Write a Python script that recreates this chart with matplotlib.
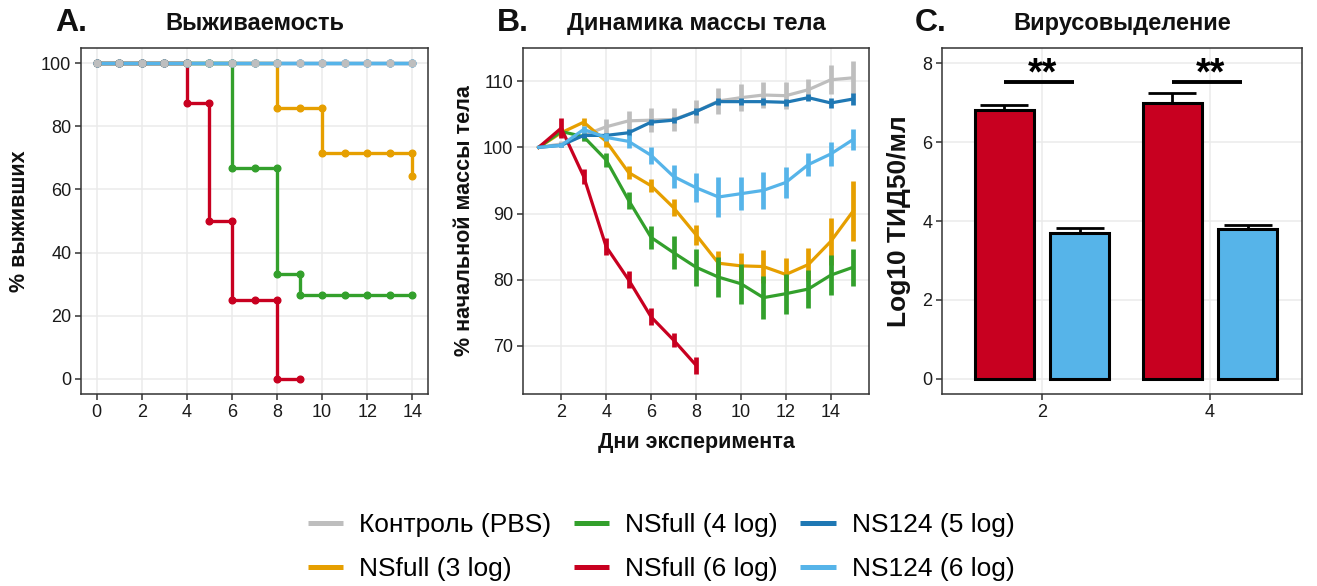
import matplotlib
matplotlib.use("Agg")
import matplotlib.pyplot as plt
from matplotlib.lines import Line2D
import numpy as np

plt.rcParams['font.family'] = ['Liberation Sans', 'DejaVu Sans']

W, H = 1317, 586

# ---------------- data ----------------
groups = ["Контроль (PBS)", "NSfull (3 log)", "NSfull (4 log)",
          "NSfull (6 log)", "NS124 (5 log)", "NS124 (6 log)"]
colors = ["#BEBEBE", "#E69F00", "#33A02C", "#C80020", "#1F78B4", "#56B4E9"]

# Panel A: survival (time, % survivors) incl. both values at drop days
surv_t_ctrl = list(range(0, 15))
surv_s_ctrl = [100] * 15
surv_t_ns3 = [0, 1, 2, 3, 4, 5, 6, 7, 8, 8, 9, 10, 10, 11, 12, 13, 14, 14]
surv_s_ns3 = [100, 100, 100, 100, 100, 100, 100, 100, 100, 85.7, 85.7, 85.7,
              71.4, 71.4, 71.4, 71.4, 71.4, 64.3]
surv_t_ns4 = [0, 1, 2, 3, 4, 5, 6, 6, 7, 8, 8, 9, 9, 10, 11, 12, 13, 14]
surv_s_ns4 = [100, 100, 100, 100, 100, 100, 100, 66.7, 66.7, 66.7, 33.3, 33.3,
              26.7, 26.7, 26.7, 26.7, 26.7, 26.7]
surv_t_ns6 = [0, 1, 2, 3, 4, 4, 5, 5, 6, 6, 7, 8, 8, 9]
surv_s_ns6 = [100, 100, 100, 100, 100, 87.5, 87.5, 50, 50, 25, 25, 25, 0, 0]
surv_t_124_5 = list(range(0, 15))
surv_s_124_5 = [100] * 15
surv_t_124_6 = list(range(0, 15))
surv_s_124_6 = [100] * 15

# Panel B: body mass dynamics (% of initial), mean and error
days = list(range(1, 16))
mass_ctrl = [100, 100.5, 101.8, 103.1, 104.0, 104.1, 104.2, 105.4, 107.0, 107.5,
             107.9, 107.8, 108.7, 110.2, 110.5]
err_ctrl = [0, 0.5, 0.8, 1.2, 1.5, 1.8, 1.8, 1.8, 1.9, 2.0, 2.0, 2.0, 1.6, 2.2, 2.5]
mass_ns3 = [100, 102.2, 103.8, 100.9, 96.2, 94.2, 90.9, 86.8, 82.5, 82.1, 82.0,
            80.8, 82.3, 85.8, 90.4]
err_ns3 = [0, 0.5, 0.6, 0.8, 1.0, 1.0, 1.3, 1.5, 1.8, 2.0, 2.5, 2.5, 2.5, 3.5, 4.5]
mass_ns4 = [100, 102.4, 101.6, 98.1, 92.0, 86.4, 84.1, 81.9, 80.4, 79.4, 77.3,
            77.9, 78.6, 80.7, 81.9]
err_ns4 = [0, 0.5, 0.6, 1.0, 1.3, 1.7, 2.5, 2.8, 3.0, 3.0, 3.2, 3.0, 2.8, 3.0, 2.8]
mass_ns6 = [100, 102.9, 95.6, 85.0, 80.0, 74.4, 70.9, 67.1]
err_ns6 = [0, 1.5, 1.2, 1.3, 1.3, 1.3, 1.0, 1.3]
mass_124_5 = [100, 100.3, 101.8, 101.8, 102.2, 103.8, 104.1, 105.4, 106.9, 106.9,
              106.9, 106.8, 107.5, 106.7, 107.3]
err_124_5 = [0, 0.3, 0.4, 0.4, 0.5, 0.5, 0.5, 0.5, 0.5, 0.5, 0.5, 0.5, 0.5, 0.8, 0.9]
mass_124_6 = [100, 100.3, 102.7, 101.5, 100.9, 98.8, 95.6, 93.9, 92.5, 93.0,
              93.5, 94.7, 97.4, 99.0, 101.2]
err_124_6 = [0, 0.3, 0.5, 0.6, 1.0, 1.3, 1.8, 2.2, 3.0, 2.5, 2.8, 2.3, 1.8, 1.8, 1.6]

# Panel C: virus shedding
shed_days = ["2", "4"]
shed_ns6 = [6.8, 7.0]
shed_ns6_err = [0.13, 0.25]
shed_124_6 = [3.7, 3.8]
shed_124_6_err = [0.13, 0.10]
signif = ["**", "**"]

surv = [(surv_t_ctrl, surv_s_ctrl), (surv_t_ns3, surv_s_ns3), (surv_t_ns4, surv_s_ns4),
        (surv_t_ns6, surv_s_ns6), (surv_t_124_5, surv_s_124_5), (surv_t_124_6, surv_s_124_6)]
mass = [(mass_ctrl, err_ctrl), (mass_ns3, err_ns3), (mass_ns4, err_ns4),
        (mass_ns6, err_ns6), (mass_124_5, err_124_5), (mass_124_6, err_124_6)]

# ---------------- figure ----------------
fig = plt.figure(figsize=(W / 100, H / 100), dpi=100)


def px_axes(left, top, right, bottom):
    return fig.add_axes([left / W, (H - bottom) / H, (right - left) / W, (bottom - top) / H])


def style(ax):
    ax.set_facecolor("white")
    ax.grid(True, color="#EBEBEB", lw=1.1, zorder=0)
    ax.set_axisbelow(True)
    for s in ax.spines.values():
        s.set_color("#333333")
        s.set_linewidth(1.1)
    ax.tick_params(axis="both", direction="out", length=4, width=1.1, color="#333333",
                   labelsize=13, labelcolor="#1A1A1A", pad=3)


TXT = "#111111"

# Panel A
axA = px_axes(81, 48, 428, 394)
style(axA)
for (t, s), c in zip(surv, colors):
    axA.plot(t, s, color=c, lw=2.4, solid_capstyle="butt", zorder=3)
for i, ((t, s), c) in enumerate(zip(surv, colors)):
    axA.plot(t, s, ls="none", marker="o", ms=4.8, color=c, zorder=6 if i == 0 else 4)
axA.set_xlim(-0.7, 14.7)
axA.set_ylim(-4.8, 104.8)
axA.set_xticks(range(0, 15, 2))
axA.set_yticks(range(0, 101, 20))
axA.set_ylabel("% выживших", fontsize=15.5, fontweight="bold", color=TXT, labelpad=8)

# Panel B
axB = px_axes(523, 48, 869, 394)
style(axB)
for (m, e), c in zip(mass, colors):
    d = days[:len(m)]
    axB.plot(d, m, color=c, lw=2.3, zorder=3)
    axB.errorbar(d, m, yerr=e, fmt="none", ecolor=c, elinewidth=3.4, capsize=0, zorder=3)
axB.set_xlim(0.3, 15.7)
axB.set_ylim(62.75, 115)
axB.set_xticks(range(2, 15, 2))
axB.set_yticks([70, 80, 90, 100, 110])
axB.set_ylabel("% начальной массы тела", fontsize=15.5, fontweight="bold", color=TXT, labelpad=6)
axB.set_xlabel("Дни эксперимента", fontsize=15.5, fontweight="bold", color=TXT, labelpad=8)

# Panel C
axC = px_axes(942, 48, 1302, 394)
style(axC)
xpos = np.arange(len(shed_days))
off, bw = 0.225, 0.35
axC.bar(xpos - off, shed_ns6, width=bw, color="#C80020", edgecolor="black", lw=2.2, zorder=2)
axC.bar(xpos + off, shed_124_6, width=bw, color="#56B4E9", edgecolor="black", lw=2.2, zorder=2)
axC.errorbar(xpos - off, shed_ns6, yerr=[np.zeros(2), shed_ns6_err], fmt="none",
             ecolor="black", elinewidth=2.0, capsize=17, capthick=2.0, zorder=1)
axC.errorbar(xpos + off, shed_124_6, yerr=[np.zeros(2), shed_124_6_err], fmt="none",
             ecolor="black", elinewidth=2.0, capsize=17, capthick=2.0, zorder=1)
for i, lab in enumerate(signif):
    axC.plot([i - 0.228, i + 0.19], [7.52, 7.52], color="black", lw=2.8, zorder=4,
             solid_capstyle="butt")
    axC.text(i + 0.005, 7.46, lab, ha="center", va="baseline", fontsize=27,
             fontweight="bold", color="black")
axC.set_xlim(-0.595, 1.548)
axC.set_ylim(-0.38, 8.38)
axC.set_xticks(xpos)
axC.set_xticklabels(shed_days)
axC.set_yticks([0, 2, 4, 6, 8])
axC.set_ylabel("Log10 ТИД50/мл", fontsize=19, fontweight="bold", color=TXT, labelpad=8)

# Titles and panel letters
for ax, title in [(axA, "Выживаемость"), (axB, "Динамика массы тела"), (axC, "Вирусовыделение")]:
    ax.set_title(title, fontsize=17, fontweight="bold", color=TXT, pad=13)
for x, lab in [(55, "A."), (497, "B."), (915, "C.")]:
    fig.text(x / W, 1 - 23 / H, lab, fontsize=23, fontweight="bold", ha="left", va="center",
             color=TXT)

# Legend
handles = [Line2D([0], [0], color=c, lw=3.6, solid_capstyle="butt") for c in colors]
fig.legend(handles, groups, ncol=3, loc="center", bbox_to_anchor=(661 / W, 1 - 547 / H),
           frameon=False, fontsize=19, handlelength=1.35, handletextpad=0.6,
           columnspacing=0.85, labelspacing=0.75)

fig.savefig("out.png", dpi=100, facecolor="white")
